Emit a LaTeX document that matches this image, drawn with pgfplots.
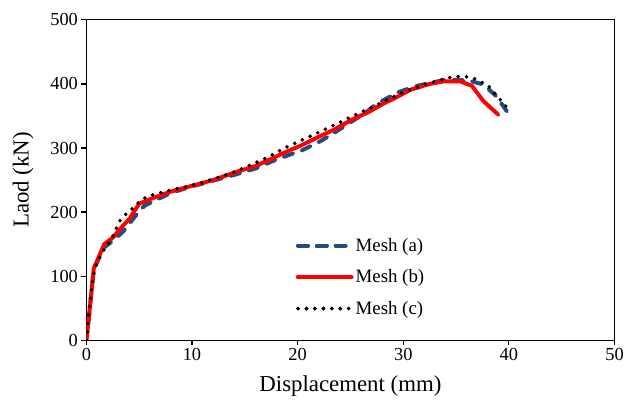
\documentclass[border=0pt]{standalone}
\usepackage{fontspec}
\setmainfont{Liberation Serif}
\usepackage{pgfplots}
\pgfplotsset{compat=1.18}
\definecolor{meshA}{HTML}{264B7D}
\definecolor{meshB}{HTML}{FF0000}

\begin{document}
\begin{tikzpicture}
\begin{axis}[
    name=ax,
    scale only axis,
    width=532pt, height=322.7pt,
    xmin=0, xmax=50, ymin=0, ymax=500,
    xtick={0,10,...,50}, ytick={0,100,...,500},
    tick align=outside, xtick pos=bottom, ytick pos=left,
    major tick length=5pt,
    axis line style={line width=1.2pt},
    every tick/.style={black, line width=1.2pt},
    /pgf/number format/assume math mode=true,
    tick label style={font=\fontsize{18.5}{20}\selectfont},
    label style={font=\fontsize{23}{26}\selectfont},
    xlabel={Displacement (mm)},
    ylabel={Laod (kN)},
    xlabel shift=8pt,
    ylabel shift=10pt,
    legend style={draw=none, fill=none, at={(0.391,0.331)}, anchor=north west,
        font=\fontsize{19}{21}\selectfont, row sep=13pt},
    legend cell align=left,
    legend image code/.code={\draw[#1] (0pt,0pt) -- (46pt,0pt);
        \path (0pt,0pt) -- (54pt,0pt);},
]

\addplot[meshA, line width=4pt, line cap=round, dash pattern=on 10pt off 9pt] coordinates {
    (0,0) (0.2,30) (0.45,70) (0.7,110) (1.1,125) (1.7,145) (2.5,155)
    (3.5,170) (4.6,193) (5.5,210) (6.5,218) (8,230) (10,240) (12,249)
    (14,258) (16,268) (18,282) (20.5,297) (22.2,311) (23.5,324) (25,340)
    (26.5,356) (27.5,369) (29.5,387) (31.3,397) (33.8,406) (35.5,406)
    (36.5,404) (37.6,399) (38.8,381) (40.2,348)
};
\addlegendentry{Mesh (a)}

\addplot[meshB, line width=4pt, line cap=round, line join=round] coordinates {
    (0,0) (0.2,30) (0.45,70) (0.7,112) (1.1,127) (1.7,150) (2.5,160)
    (3.1,172) (4.1,190) (5,213) (6,220) (7,226) (8,232) (10,241) (12,250)
    (14.07,262) (16,272) (17.25,281) (18.77,293) (20.33,304) (21.93,317)
    (23.5,329) (25.1,344) (26.7,356) (28.2,370) (29.1,377) (30.7,391)
    (32.5,400) (33.8,404) (35.4,404) (36.5,397) (37.6,373) (39,352)
};
\addlegendentry{Mesh (b)}

\addplot[black, line width=4pt, line cap=round, dash pattern=on 0pt off 8.5pt] coordinates {
    (0,0) (0.15,25) (0.35,60) (0.6,95) (0.8,112) (1.2,128) (1.8,145)
    (2.5,162) (3.1,185) (3.7,196) (4.4,206) (5,216) (5.7,224) (6.6,228)
    (7.4,232) (8.2,235.5) (9.1,238) (11,246) (14.07,263) (15.6,274)
    (17.25,286) (18.77,300) (20.33,312) (21.93,324) (23.5,336) (25.1,349)
    (26.7,361) (28.2,373) (30,387) (32,399) (33.5,406) (34.7,411)
    (35.6,412) (36.5,410) (38,398) (39.2,375) (40,360)
};
\addlegendentry{Mesh (c)}

\end{axis}
\path ([shift={(-87pt,-62.3pt)}]ax.south west) rectangle ++(627pt,405pt);
\end{tikzpicture}
\end{document}
